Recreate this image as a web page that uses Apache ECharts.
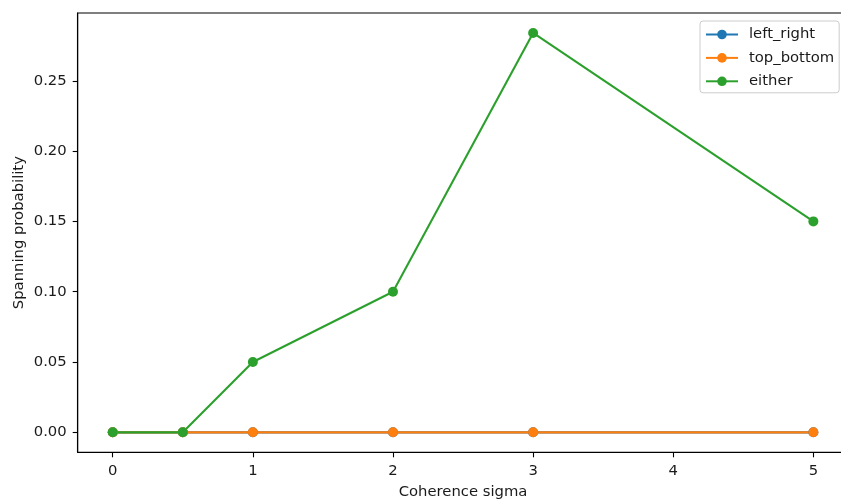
<!DOCTYPE html>
<html>
<head>
<meta charset="utf-8">
<script src="https://cdn.jsdelivr.net/npm/echarts@6/dist/echarts.min.js"></script>
<style>
  html, body { margin: 0; padding: 0; background: #ffffff; }
  #chart { width: 841px; height: 499px; }
</style>
</head>
<body>
<div id="chart"></div>
<script>
// Coherence sigma values (x) and spanning probabilities per spanning direction
const sigmaValues = [0, 0.5, 1, 2, 3, 5];
const leftRight = [0, 0, 0, 0, 0, 0];
const topBottom = [0, 0, 0, 0, 0, 0];
const either = [0, 0, 0.05, 0.10, 0.284, 0.15];

const xTicks = [0, 1, 2, 3, 4, 5];
const yTicks = [0, 0.05, 0.10, 0.15, 0.20, 0.25];

const seriesNames = ['left_right', 'top_bottom', 'either'];
const seriesColors = ['#1f77b4', '#ff7f0e', '#2ca02c'];
const seriesValues = [leftRight, topBottom, either];

const FONT = 'DejaVu Sans';
const FS = 14.8;
const TEXT = '#1a1a1a';

function pairs(ys) {
  return sigmaValues.map((x, i) => [x, ys[i]]);
}

const chart = echarts.init(document.getElementById('chart'), null, { renderer: 'canvas' });

chart.setOption({
  animation: false,
  backgroundColor: '#ffffff',
  textStyle: { fontFamily: FONT },
  // plot area runs a few pixels past the right edge of the canvas
  grid: {
    left: 77.7, width: 770.7, top: 13, height: 439.3,
    show: true, borderColor: '#000000', borderWidth: 1.1,
    containLabel: false,
    outerBoundsMode: 'none'
  },
  legend: {
    orient: 'vertical',
    left: 700, top: 21,
    padding: [6, 5, 4, 5],
    backgroundColor: 'rgba(255,255,255,0.8)',
    borderColor: '#cccccc', borderWidth: 1, borderRadius: 3,
    itemWidth: 32, itemHeight: 12, itemGap: 8.4,
    data: seriesNames,
    textStyle: { fontFamily: FONT, fontSize: FS, color: TEXT, padding: [0, 0, 0, 6], lineHeight: 15 }
  },
  xAxis: {
    type: 'value',
    min: -0.25, max: 5.25,
    name: 'Coherence sigma',
    nameLocation: 'middle',
    nameGap: 32,
    nameTextStyle: { fontFamily: FONT, fontSize: FS, color: TEXT },
    axisLine: { onZero: false, lineStyle: { color: '#000000', width: 1.1 } },
    axisTick: { show: true, length: 5, lineStyle: { color: '#000000', width: 1.1 }, customValues: xTicks },
    axisLabel: { fontFamily: FONT, fontSize: FS, color: TEXT, margin: 11, customValues: xTicks,
      formatter: v => String(v) },
    splitLine: { show: false }
  },
  yAxis: {
    type: 'value',
    min: -0.0142, max: 0.2982,
    name: 'Spanning probability',
    nameLocation: 'middle',
    nameGap: 51,
    nameMoveOverlap: false,
    nameTextStyle: { fontFamily: FONT, fontSize: FS, color: TEXT },
    axisLine: { show: true, onZero: false, lineStyle: { color: '#000000', width: 1.1 } },
    axisTick: { show: true, length: 5, lineStyle: { color: '#000000', width: 1.1 }, customValues: yTicks },
    axisLabel: { fontFamily: FONT, fontSize: FS, color: TEXT, margin: 11, customValues: yTicks,
      formatter: v => v.toFixed(2) },
    splitLine: { show: false }
  },
  series: seriesNames.map((name, i) => ({
    name: name,
    type: 'line',
    data: pairs(seriesValues[i]),
    color: seriesColors[i],
    symbol: 'circle',
    symbolSize: 10,
    showAllSymbol: true,
    lineStyle: { width: 2.1, color: seriesColors[i] },
    itemStyle: { color: seriesColors[i] },
    emphasis: { disabled: true },
    clip: false
  }))
});
</script>
</body>
</html>
